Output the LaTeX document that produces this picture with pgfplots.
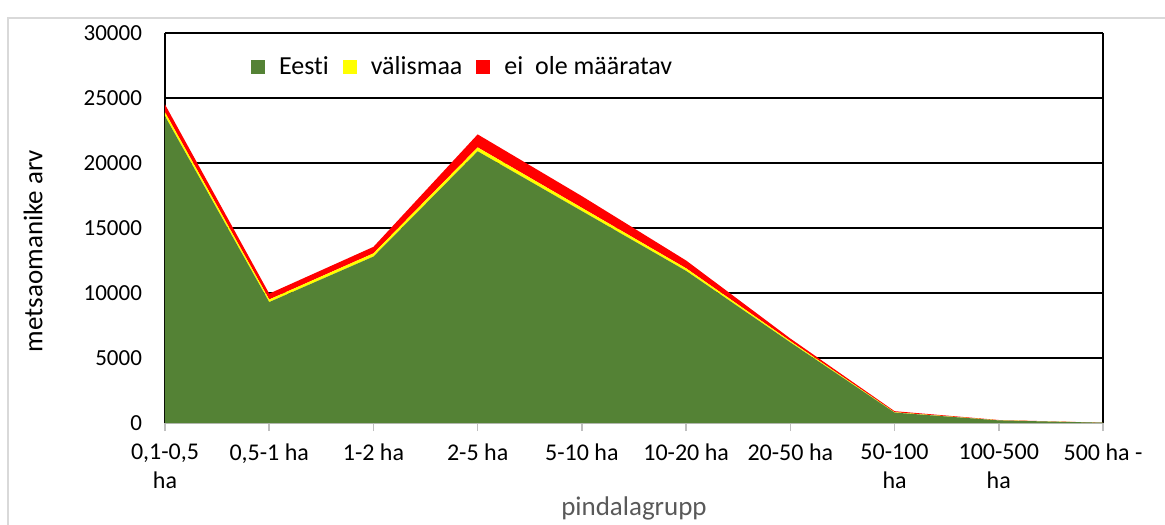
\documentclass[border=0pt]{standalone}
\usepackage{fontspec}
\setmainfont[Ligatures=NoCommon]{Carlito}
\usepackage{pgfplots}
\pgfplotsset{compat=1.18}
\definecolor{cgreen}{HTML}{548235}
\definecolor{cyellow}{HTML}{FFFF00}
\definecolor{cred}{HTML}{FF0000}
\definecolor{cframe}{HTML}{D9D9D9}
\definecolor{caxis}{HTML}{BFBFBF}
\definecolor{clabel}{HTML}{595959}
\begin{document}
\begin{tikzpicture}[x=1pt,y=1pt]
\useasboundingbox (-82.5,-50.5) rectangle (500,211.5);
\begin{scope}
\clip (-82.5,-50.5) rectangle (500,211.5);
\draw[cframe, line width=1pt] (-78.5,-70) -- (-78.5,202.5) -- (520,202.5);
\end{scope}
\begin{axis}[
  at={(0,0)}, anchor=origin,
  scale only axis, width=469pt, height=195pt,
  xmin=0, xmax=9, ymin=0, ymax=30000,
  stack plots=y,
  xtick={0,...,9},
  xticklabels={{0,1-0,5\\ha},{0,5-1 ha},{1-2 ha},{2-5 ha},{5-10 ha},{10-20 ha},{20-50 ha},{50-100\\ha},{100-500\\ha},{500 ha -}},
  xticklabel style={align=center, font=\fontsize{12}{14.5}\selectfont, yshift=-3pt},
  ytick={0,5000,...,30000},
  yticklabel style={font=\fontsize{11.5}{14}\selectfont, xshift=-4pt},
  /pgf/number format/assume math mode=true,
  yticklabel={\pgfmathprintnumber[1000 sep={},fixed]{\tick}},
  scaled y ticks=false,
  ymajorgrids, major grid style={black, line width=0.9pt},
  ytick style={draw=none},
  xtick style={caxis, line width=0.8pt},
  major tick length=4pt,
  tick align=outside,
  xtick pos=bottom, ytick pos=left,
  axis line style={draw=none},
  xlabel={pindalagrupp},
  xlabel style={font=\fontsize{13.5}{15}\selectfont, text=clabel, at={(axis description cs:0.5,-0.22)}, anchor=center},
  ylabel={metsaomanike arv},
  ylabel style={font=\fontsize{13.5}{15}\selectfont, at={(axis description cs:-0.1405,0.441)}, anchor=center, rotate=0},
  legend columns=3,
  legend style={at={(0.085,0.913)}, anchor=west, draw=none, fill=none,
    font=\fontsize{13}{15}\selectfont, column sep=5pt},
  legend image code/.code={\fill[#1] (0pt,-3.5pt) rectangle (7pt,3.5pt);},
  clip=false,
]
\addplot[fill=cgreen, draw=none] coordinates {
(0,23600) (1,9300) (2,12800) (3,20900) (4,16300) (5,11700) (6,6200) (7,800) (8,200) (9,20)
} \closedcycle;
\addlegendentry{Eesti}
\addplot[fill=cyellow, draw=none] coordinates {
(0,300) (1,200) (2,250) (3,300) (4,250) (5,200) (6,100) (7,30) (8,10) (9,1)
} \closedcycle;
\addlegendentry{välismaa}
\addplot[fill=cred, draw=none] coordinates {
(0,600) (1,450) (2,500) (3,1000) (4,900) (5,600) (6,200) (7,80) (8,20) (9,2)
} \closedcycle;
\addlegendentry{ei\ \ ole määratav}
\draw[black, line width=0.9pt] (axis cs:0,0) -- (axis cs:0,30000);
\draw[black, line width=0.9pt] (axis cs:9,0) -- (axis cs:9,30000);
\draw[caxis, line width=0.8pt] (axis cs:0,0) -- (axis cs:9,0);
\end{axis}
\end{tikzpicture}
\end{document}
